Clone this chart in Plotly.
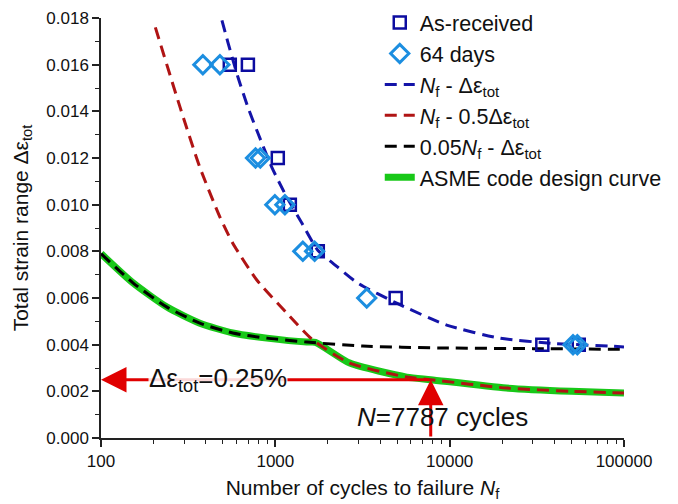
import math
import plotly.graph_objects as go

# ---------------- data ----------------
as_received_N = [548, 696, 1033, 1211, 1752, 4900, 34000, 55000]
as_received_eps = [0.016, 0.016, 0.012, 0.010, 0.008, 0.006, 0.004, 0.004]

days64_N = [384, 481, 770, 820, 994, 1135, 1438, 1680, 3344, 51000, 54000]
days64_eps = [0.016, 0.016, 0.012, 0.012, 0.010, 0.010, 0.008, 0.008, 0.006, 0.004, 0.004]

blue_N = [494, 534, 610, 696, 794, 955, 1164, 1419, 1752, 2281, 2970, 4966, 9610, 19360, 40000, 82600, 100000]
blue_eps = [0.0179, 0.01697, 0.01547, 0.01418, 0.01307, 0.0116, 0.01032, 0.00921, 0.00805,
            0.00732, 0.00664, 0.00578, 0.00484, 0.00428, 0.00405, 0.00394, 0.0039]

red_N = [205, 284, 369, 481, 570, 783, 1164, 1640, 2673, 5670, 7787, 21200, 50000, 100000]
red_eps = [0.0176, 0.01418, 0.0116, 0.00947, 0.00835, 0.00677, 0.00535, 0.0042, 0.00321,
           0.00261, 0.0025, 0.00214, 0.00200, 0.00193]

black_N = [100, 153, 239, 369, 570, 894, 1515, 3170, 8770, 30000, 100000]
black_eps = [0.0079, 0.00664, 0.00561, 0.00492, 0.0045, 0.00428, 0.00411, 0.00394, 0.00386, 0.00383, 0.0038]

asme_N = [100, 153, 239, 369, 570, 894, 1515, 1700, 2673, 5670, 7787, 21200, 50000, 100000]
asme_eps = [0.0079, 0.00664, 0.00561, 0.00492, 0.0045, 0.00428, 0.00411, 0.0041, 0.00321,
            0.00261, 0.0025, 0.00214, 0.00200, 0.00193]

crit_N = 7787
crit_eps = 0.0025

x_tickvals = [100, 1000, 10000, 100000]
x_ticktext = ["100", "1000", "10000", "100000"]
x_minor = [m * 10 ** e for e in (2, 3, 4) for m in range(2, 10)]

FONT = "Liberation Sans, Arial, sans-serif"
DASH = "12px,7px"

fig = go.Figure()

fig.add_trace(go.Scatter(
    x=asme_N, y=asme_eps, mode="lines", name="ASME code design curve",
    line=dict(color="#18c818", width=7, shape="spline", smoothing=0.6),
    legendrank=6, legendgroup="g6"))
fig.add_trace(go.Scatter(
    x=black_N, y=black_eps, mode="lines",
    name="0.05<i>N</i><sub>f</sub> - Δε<sub>tot</sub>",
    line=dict(color="#000000", width=3, dash=DASH, shape="spline", smoothing=0.6),
    legendrank=5, legendgroup="g5"))
fig.add_trace(go.Scatter(
    x=red_N, y=red_eps, mode="lines",
    name="<i>N</i><sub>f</sub> - 0.5Δε<sub>tot</sub>",
    line=dict(color="#b01414", width=3, dash=DASH, shape="spline", smoothing=0.6),
    legendrank=4, legendgroup="g4"))
fig.add_trace(go.Scatter(
    x=blue_N, y=blue_eps, mode="lines",
    name="<i>N</i><sub>f</sub> - Δε<sub>tot</sub>",
    line=dict(color="#1414a8", width=3, dash=DASH, shape="spline", smoothing=0.6),
    legendrank=3, legendgroup="g3"))
fig.add_trace(go.Scatter(
    x=as_received_N, y=as_received_eps, mode="markers", name="As-received",
    marker=dict(symbol="square-open", size=12, color="#0c0ca0", line=dict(width=2.5, color="#0c0ca0")),
    legendrank=1, legendgroup="g1"))
fig.add_trace(go.Scatter(
    x=days64_N, y=days64_eps, mode="markers", name="64 days",
    marker=dict(symbol="diamond-open", size=14, color="#1c8ee0", line=dict(width=3, color="#1c8ee0")),
    legendrank=2, legendgroup="g2"))

lc = math.log10(crit_N)

# horizontal arrow to the y axis
fig.add_annotation(x=2, y=crit_eps, ax=lc, ay=crit_eps, xref="x", yref="y", axref="x", ayref="y",
                   text="", showarrow=True, arrowhead=2, arrowsize=1.7, arrowwidth=3, arrowcolor="#e00000")
# vertical arrow from the x axis
fig.add_annotation(x=lc, y=crit_eps, ax=lc, ay=0, xref="x", yref="y", axref="x", ayref="y",
                   text="", showarrow=True, arrowhead=2, arrowsize=1.7, arrowwidth=3, arrowcolor="#e00000")
fig.add_annotation(x=2.67, y=crit_eps, xref="x", yref="y", showarrow=False,
                   text="Δε<sub>tot</sub>=0.25%", font=dict(family=FONT, size=26, color="#111111"),
                   bgcolor="rgba(255,255,255,0.85)", borderpad=0)
fig.add_annotation(x=3.96, y=0.0009, xref="x", yref="y", showarrow=False,
                   text="<i>N</i>=7787 cycles", font=dict(family=FONT, size=26, color="#111111"))

# the page body has an 8px margin, so the figure is sized/margined to compensate
fig.update_layout(
    width=670, height=496,
    margin=dict(l=93, r=54, t=10, b=66, autoexpand=False),
    plot_bgcolor="white", paper_bgcolor="white",
    font=dict(family=FONT, size=17, color="#111111"),
    legend=dict(x=0.533, y=1.038, xanchor="left", yanchor="top", bgcolor="rgba(0,0,0,0)",
                font=dict(family=FONT, size=21.5), tracegroupgap=0, itemwidth=30),
    showlegend=True,
)
fig.update_xaxes(
    type="log", range=[2, 5], tickvals=x_tickvals, ticktext=x_ticktext, automargin=False,
    ticks="outside", ticklen=7, tickwidth=1.5, tickcolor="#222",
    minor=dict(tickvals=x_minor, ticks="outside", ticklen=4, tickwidth=1.2, tickcolor="#222"),
    showline=True, linecolor="#222", linewidth=1.5, showgrid=False, zeroline=False,
    tickfont=dict(size=17),
    title=dict(text="Number of cycles to failure <i>N</i><sub>f</sub>", font=dict(size=21), standoff=10),
)
fig.update_yaxes(
    range=[0, 0.018], dtick=0.002, tick0=0, tickformat=".3f", automargin=False,
    ticks="outside", ticklen=7, tickwidth=1.5, tickcolor="#222",
    minor=dict(dtick=0.001, ticks="outside", ticklen=4, tickwidth=1.2, tickcolor="#222"),
    showline=True, linecolor="#222", linewidth=1.5, showgrid=False, zeroline=False,
    tickfont=dict(size=17),
    title=dict(text="Total strain range Δε<sub>tot</sub>", font=dict(size=21), standoff=12),
)

fig.write_html("out.html")
